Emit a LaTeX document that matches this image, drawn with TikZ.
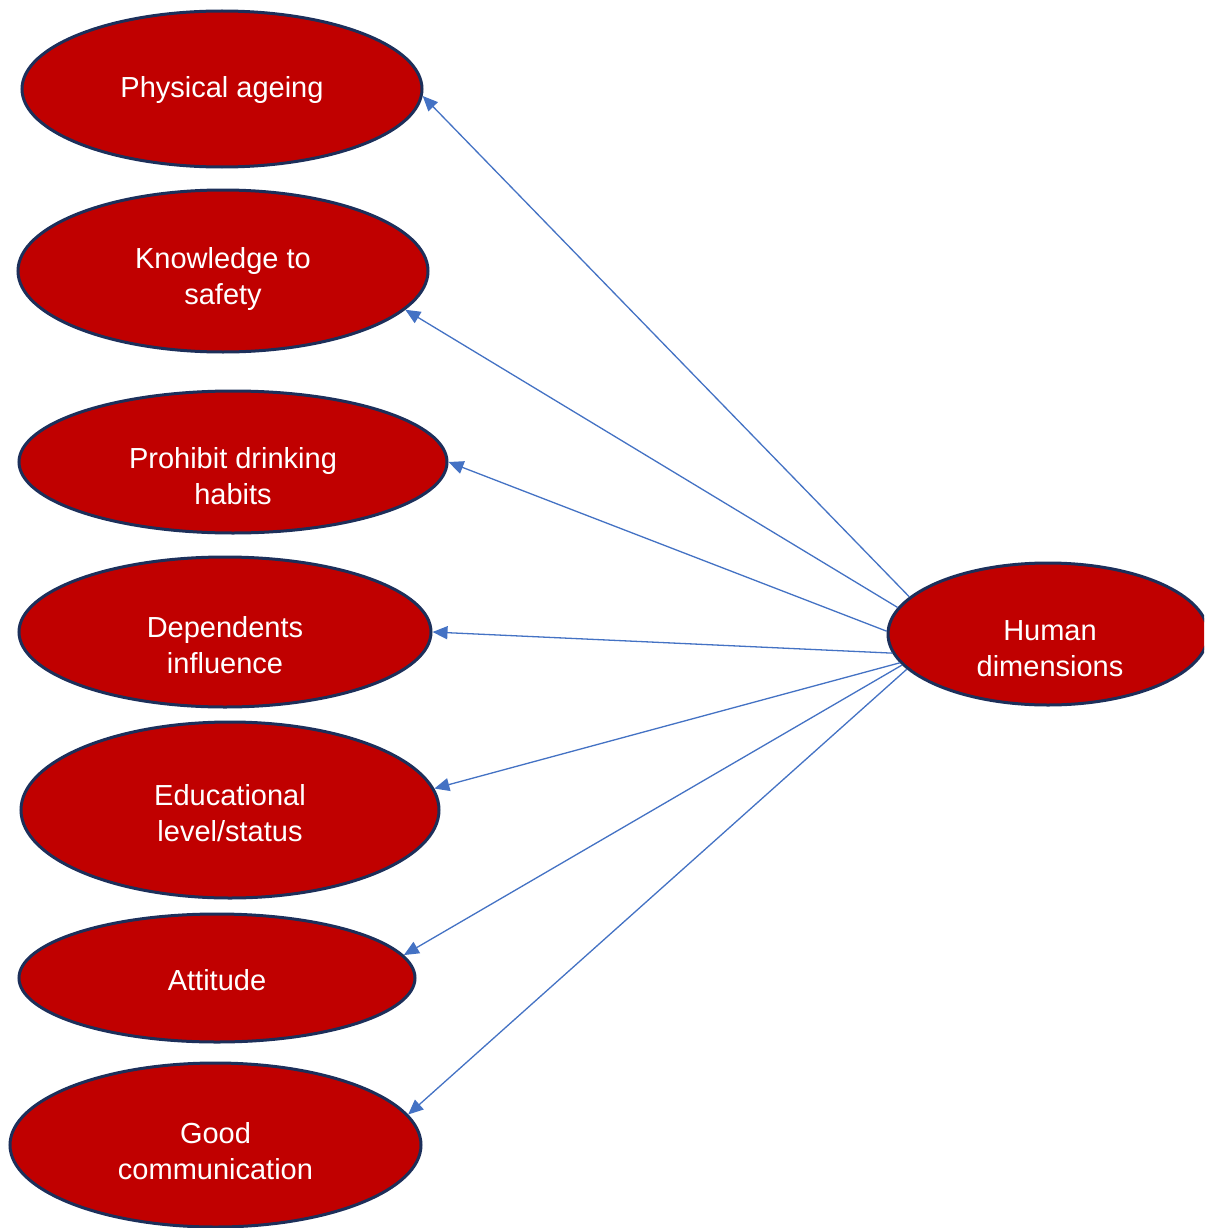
\documentclass[tikz,border=0pt]{standalone}
\usepackage{fontspec}
\setmainfont{Liberation Sans}
\usetikzlibrary{shapes.geometric,arrows.meta}
\definecolor{ellred}{HTML}{C00000}
\definecolor{ellborder}{HTML}{1C2F5A}
\definecolor{arrblue}{HTML}{4472C4}
\tikzset{
  oval/.style={ellipse, draw=ellborder, fill=ellred, line width=3pt, inner sep=0pt},
  lbl/.style={text=white, font=\fontsize{29}{36}\selectfont, align=center, inner sep=0pt},
  arr/.style={draw=arrblue, line width=1.3pt, -{Triangle[length=15pt,width=13pt]}}
}
\begin{document}
\begin{tikzpicture}[x=1pt,y=-1pt]
\clip (0,0) rectangle (1204,1228);
\fill[white] (0,0) rectangle (1204,1228);
% ellipses
\node[oval, minimum width=400pt, minimum height=156pt] (pa) at (222,89) {};
\node[oval, minimum width=410pt, minimum height=162pt] (ks) at (223,271) {};
\node[oval, minimum width=428pt, minimum height=142pt] (pd) at (233,462) {};
\node[oval, minimum width=412pt, minimum height=150pt] (di) at (225,632) {};
\node[oval, minimum width=418pt, minimum height=176pt] (el) at (230,810) {};
\node[oval, minimum width=396pt, minimum height=128pt] (at) at (217,978) {};
\node[oval, minimum width=411pt, minimum height=164pt] (gc) at (215.5,1145) {};
\node[oval, minimum width=320pt, minimum height=142pt] (hd) at (1048,634) {};
% labels
\node[lbl] (tpa) at (222,90) {Physical ageing};
\node[lbl] (tks) at (223,279) {Knowledge to\\safety};
\node[lbl] (tpd) at (233,476) {Prohibit drinking\\habits};
\node[lbl] (tdi) at (225,645) {Dependents\\influence};
\node[lbl] (tel) at (230,813) {Educational\\level/status};
\node[lbl] (tat) at (217,980) {Attitude};
\node[lbl] (tgc) at (215.5,1151) {Good\\communication};
\node[lbl] (thd) at (1050,649) {Human\\dimensions};
% connectors
\draw[arr] (hd.165.9) -- (pa.-2.3);
\draw[arr] (hd.170) -- (ks.-12.5);
\draw[arr] (hd.179.6) -- (pd.0);
\draw[arr] (hd.187.7) -- (di.0);
\draw[arr] (hd.191.3) -- (el.6.6);
\draw[arr] (hd.192.1) -- (at.7.5);
\draw[arr] (hd.194.2) -- (gc.9.4);
\end{tikzpicture}
\end{document}
